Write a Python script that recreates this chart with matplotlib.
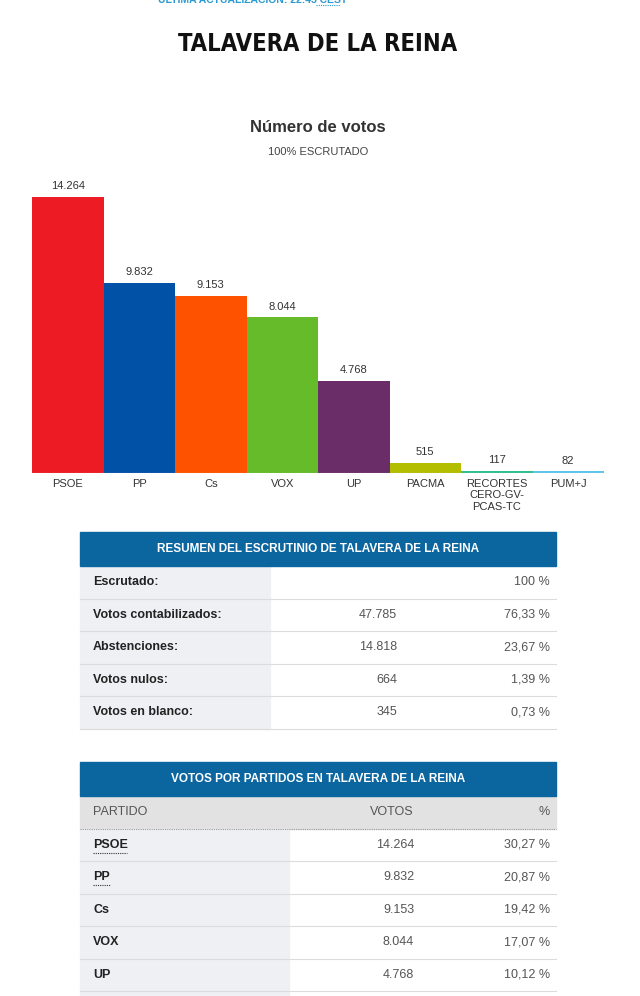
import matplotlib
matplotlib.use("Agg")
import matplotlib.pyplot as plt
from matplotlib.patches import Rectangle

# bar chart data
parties = ["PSOE", "PP", "Cs", "VOX", "UP", "PACMA", "RECORTES\nCERO-GV-\nPCAS-TC", "PUM+J"]
votes = [14264, 9832, 9153, 8044, 4768, 515, 117, 82]
bar_colors = ["#ED1C24", "#0152A6", "#FF5200", "#66BB2A", "#6A2D68", "#B4BE00", "#2EC08E", "#5CC6EA"]

# summary table
summary_labels = ["Escrutado:", "Votos contabilizados:", "Abstenciones:", "Votos nulos:", "Votos en blanco:"]
summary_votes = ["", "47.785", "14.818", "664", "345"]
summary_pct = ["100 %", "76,33 %", "23,67 %", "1,39 %", "0,73 %"]

# party table
table_parties = ["PSOE", "PP", "Cs", "VOX", "UP"]
table_votes = ["14.264", "9.832", "9.153", "8.044", "4.768"]
table_pct = ["30,27 %", "20,87 %", "19,42 %", "17,07 %", "10,12 %"]

W, H = 640, 996
fig = plt.figure(figsize=(W / 100, H / 100), dpi=100)
fig.patch.set_facecolor("white")

# overlay axes in pixel coords
ov = fig.add_axes([0, 0, 1, 1])
ov.set_xlim(0, W)
ov.set_ylim(H, 0)
ov.axis("off")

SANS = ["Liberation Sans", "DejaVu Sans"]
BLUE = "#0B66A0"

# update line, cut off at the top like in the page capture
ov.text(253, 0, "ÚLTIMA ACTUALIZACIÓN: 22:45 CEST", ha="center", va="center",
        fontsize=7.5, fontweight="bold", color="#2A9AD0", family=SANS)
ov.plot([316, 340], [5, 5], color="#2A9AD0", lw=0.8, ls=(0, (1, 1)))

ov.text(318, 44, "TALAVERA DE LA REINA", ha="center", va="center",
        fontsize=17, fontweight="heavy", color="#111111",
        family=["DejaVu Sans Condensed", "DejaVu Sans"], fontstretch="condensed")
ov.text(318, 127, "Número de votos", ha="center", va="center",
        fontsize=12, fontweight="bold", color="#333333", family=SANS)
ov.text(318, 152, "100% ESCRUTADO", ha="center", va="center",
        fontsize=8, color="#444444", family=SANS)

# bar chart
top_px, base_px = 180, 473
ax = fig.add_axes([32 / W, (H - base_px) / H, (604 - 32) / W, (base_px - top_px) / H])
x = range(len(parties))
ax.bar(x, votes, width=1.0, color=bar_colors, linewidth=0)
ax.set_xlim(-0.5, len(parties) - 0.5)
ax.set_ylim(0, max(votes) * (base_px - top_px) / 276)
ax.axhline(0, color="#cccccc", linewidth=0.8)
for i, v in enumerate(votes):
    ax.annotate(f"{v:,}".replace(",", "."), (i, v), xytext=(0, 4), textcoords="offset points",
                ha="center", va="bottom", fontsize=8, color="#333333", family=SANS)
ax.set_xticks(list(x))
ax.set_xticklabels(parties, fontsize=8, color="#333333", family=SANS, linespacing=1.2)
ax.tick_params(axis="x", length=0, pad=4)
ax.set_yticks([])
for s in ax.spines.values():
    s.set_visible(False)
ax.patch.set_alpha(0)

# tables
TX0, TX1 = 80, 556
ROW_H = 32.5
LIGHT = "#EFF0F4"
LINE = "#DCDCDC"
FS = 9


def header(y0, text):
    ov.add_patch(Rectangle((TX0, y0), TX1 - TX0, 34, color=BLUE, zorder=2))
    ov.text((TX0 + TX1) / 2, y0 + 17, text, ha="center", va="center", color="white",
            fontsize=8.5, fontweight="bold", family=SANS, zorder=3)


# summary table
y = 532
header(y, "RESUMEN DEL ESCRUTINIO DE TALAVERA DE LA REINA")
y += 34
for i, lab in enumerate(summary_labels):
    y0 = y + i * ROW_H
    ov.add_patch(Rectangle((TX0, y0), 190, ROW_H, color=LIGHT, zorder=1))
    ov.plot([TX0, TX1], [y0 + ROW_H, y0 + ROW_H], color=LINE, lw=0.8, zorder=2)
    ov.text(93, y0 + ROW_H / 2, lab, ha="left", va="center", fontsize=FS,
            fontweight="bold", color="#222222", family=SANS)
    ov.text(397, y0 + ROW_H / 2, summary_votes[i], ha="right", va="center",
            fontsize=FS, color="#555555", family=SANS)
    ov.text(550, y0 + ROW_H / 2, summary_pct[i], ha="right", va="center",
            fontsize=FS, color="#555555", family=SANS)

# party table
y = 762
header(y, "VOTOS POR PARTIDOS EN TALAVERA DE LA REINA")
y += 34
ov.add_patch(Rectangle((TX0, y), TX1 - TX0, ROW_H, color="#E2E2E2", zorder=1))
ov.plot([TX0, TX1], [y + ROW_H, y + ROW_H], color="#999999", lw=0.8, ls=(0, (1, 1)), zorder=2)
ov.text(93, y + ROW_H / 2, "PARTIDO", ha="left", va="center", fontsize=FS, color="#555555", family=SANS)
ov.text(414, y + ROW_H / 2, "VOTOS", ha="right", va="center", fontsize=FS, color="#555555", family=SANS)
ov.text(550, y + ROW_H / 2, "%", ha="right", va="center", fontsize=FS, color="#555555", family=SANS)
y += ROW_H
for i, p in enumerate(table_parties + [""]):
    y0 = y + i * ROW_H
    ov.add_patch(Rectangle((TX0, y0), 209, ROW_H, color=LIGHT, zorder=1))
    ov.plot([TX0, TX1], [y0 + ROW_H, y0 + ROW_H], color=LINE, lw=0.8, zorder=2)
    if not p:
        continue
    ov.text(93, y0 + ROW_H / 2, p, ha="left", va="center", fontsize=FS,
            fontweight="bold", color="#222222", family=SANS)
    if i < 2:
        ov.plot([93, 93 + 8.4 * len(p)], [y0 + ROW_H / 2 + 8, y0 + ROW_H / 2 + 8],
                color="#333333", lw=0.8, ls=(0, (1, 1)), zorder=3)
    ov.text(414, y0 + ROW_H / 2, table_votes[i], ha="right", va="center",
            fontsize=FS, color="#555555", family=SANS)
    ov.text(550, y0 + ROW_H / 2, table_pct[i], ha="right", va="center",
            fontsize=FS, color="#555555", family=SANS)

fig.savefig("out.png", dpi=100)
